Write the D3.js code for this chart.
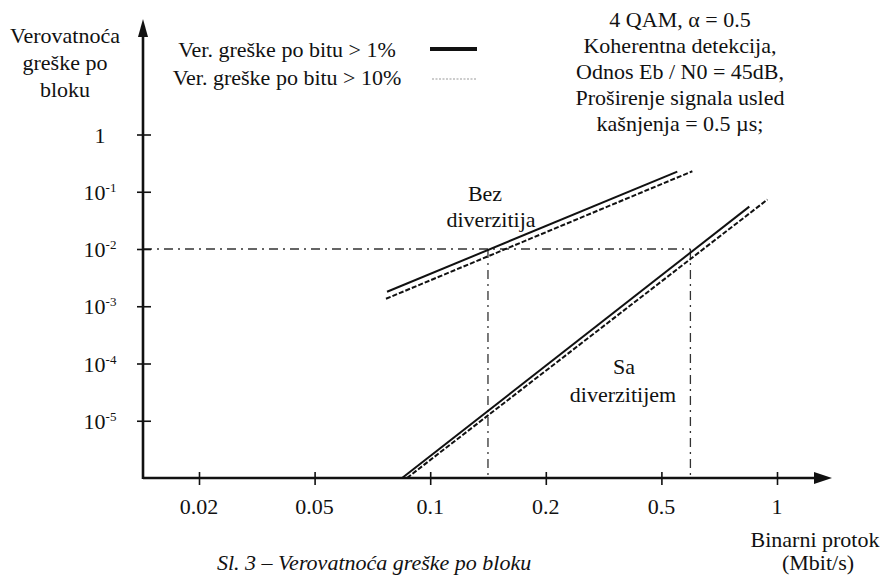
<!DOCTYPE html>
<html>
<head>
<meta charset="utf-8">
<script src="https://cdn.jsdelivr.net/npm/d3@7"></script>
<style>
  body { margin: 0; background: #fff; }
  svg text { font-family: "Liberation Serif", "Times New Roman", Times, "DejaVu Serif", serif; font-size: 22px; fill: #111; }
</style>
</head>
<body>
<div id="chartdiv"></div>
<script>
// tick values
const xTicks = [0.02, 0.05, 0.1, 0.2, 0.5, 1];
const xTickLabels = ["0.02", "0.05", "0.1", "0.2", "0.5", "1"];
const yTicks = [1, 1e-1, 1e-2, 1e-3, 1e-4, 1e-5];
const yTickExp = [null, "-1", "-2", "-3", "-4", "-5"];

// curves [binary rate Mbit/s, block error probability]
const bezSolid = [[0.0772, 1.79e-3], [0.550, 0.225]];
const bezDashed = [[0.0767, 1.35e-3], [0.602, 0.228]];
const saSolid = [[0.0845, 1e-6], [0.847, 0.055]];
const saDashed = [[0.087, 1e-6], [0.944, 0.073]];

// 10^-2 reference and where the curves cross it
const refLevel = 1e-2;
const refRates = [0.1414, 0.595];

const legendLabels = ["Ver. greške po bitu > 1%", "Ver. greške po bitu > 10%"];
const noteLines = ["4 QAM, \u03b1 = 0.5", "Koherentna detekcija,", "Odnos Eb / N0 = 45dB,",
  "Proširenje signala usled", "kašnjenja = 0.5 \u00b5s;"];

const width = 882, height = 576;
const origin = { x: 143, y: 478 };
const step = 115.6;
const serif = "'Liberation Serif', 'Times New Roman', Times, 'DejaVu Serif', serif";

const svg = d3.select("#chartdiv").append("svg")
  .attr("width", width)
  .attr("height", height)
  .attr("font-family", serif);

// the x axis is evenly spaced between its labelled ticks
let x = d3.scaleLog()
  .domain(xTicks)
  .range(xTicks.map(function (d, i) { return 199 + i * step; }));
let y = d3.scaleLog().domain([1e-6, 100]).range([origin.y, 20]);

// reference dash-dot lines
const refStyle = function (sel) {
  sel.attr("stroke", "#333").attr("stroke-width", 1.3)
    .attr("stroke-dasharray", "9,5,2,5").attr("fill", "none");
};
svg.append("line")
  .attr("x1", origin.x).attr("x2", x(refRates[1]))
  .attr("y1", y(refLevel)).attr("y2", y(refLevel))
  .call(refStyle);
svg.selectAll(".vref")
  .data(refRates)
  .enter().append("line")
  .attr("class", "vref")
  .attr("x1", function (d) { return x(d); })
  .attr("x2", function (d) { return x(d); })
  .attr("y1", y(refLevel)).attr("y2", origin.y)
  .call(refStyle);

// axes
let xAxis = d3.axisBottom(x).tickValues(xTicks).tickFormat("").tickSize(6);
let yAxis = d3.axisLeft(y).tickValues(yTicks).tickFormat("").tickSize(6);

let gx = svg.append("g")
  .attr("transform", "translate(0," + origin.y + ")")
  .call(xAxis);
gx.select(".domain").remove();
gx.selectAll(".tick line").attr("y1", -6).attr("y2", 7)
  .attr("stroke", "#111").attr("stroke-width", 1.6);

let gy = svg.append("g")
  .attr("transform", "translate(" + origin.x + ",0)")
  .call(yAxis);
gy.select(".domain").remove();
gy.selectAll(".tick line").attr("x1", -6).attr("x2", 8)
  .attr("stroke", "#111").attr("stroke-width", 1.6);

svg.append("line")
  .attr("x1", origin.x).attr("x2", 818)
  .attr("y1", origin.y).attr("y2", origin.y)
  .attr("stroke", "#111").attr("stroke-width", 2.6);
svg.append("path")
  .attr("d", "M832," + origin.y + "L814," + (origin.y - 6) + "L814," + (origin.y + 6) + "Z")
  .attr("fill", "#111");
svg.append("line")
  .attr("x1", origin.x).attr("x2", origin.x)
  .attr("y1", origin.y + 1).attr("y2", 34)
  .attr("stroke", "#111").attr("stroke-width", 2.6);
svg.append("path")
  .attr("d", "M" + origin.x + ",19L" + (origin.x - 5) + ",37L" + (origin.x + 5) + ",37Z")
  .attr("fill", "#111");

// tick labels
svg.selectAll(".xlab")
  .data(xTicks)
  .enter().append("text")
  .attr("class", "xlab")
  .attr("x", function (d) { return x(d); })
  .attr("y", 514)
  .attr("text-anchor", "middle")
  .text(function (d, i) { return xTickLabels[i]; });

let ylab = svg.selectAll(".ylab")
  .data(yTicks)
  .enter().append("text")
  .attr("class", "ylab")
  .attr("x", 100)
  .attr("y", function (d) { return y(d) + 8; })
  .attr("text-anchor", "middle");
ylab.append("tspan").text(function (d, i) { return yTickExp[i] ? "10" : "1"; });
ylab.filter(function (d, i) { return yTickExp[i]; })
  .append("tspan")
  .attr("dy", -8)
  .style("font-size", "13px")
  .text(function (d) { return yTickExp[yTicks.indexOf(d)]; });

// curves
let line = d3.line()
  .x(function (d) { return x(d[0]); })
  .y(function (d) { return y(d[1]); });

[bezSolid, saSolid].forEach(function (s) {
  svg.append("path").datum(s).attr("d", line)
    .attr("fill", "none").attr("stroke", "#111").attr("stroke-width", 2);
});
[bezDashed, saDashed].forEach(function (s) {
  svg.append("path").datum(s).attr("d", line)
    .attr("fill", "none").attr("stroke", "#111").attr("stroke-width", 2)
    .attr("stroke-dasharray", "5,2");
});

// curve names
svg.append("text").attr("x", 485).attr("y", 201).attr("text-anchor", "middle").text("Bez");
svg.append("text").attr("x", 491).attr("y", 227).attr("text-anchor", "middle").text("diverzitija");
svg.append("text").attr("x", 624).attr("y", 374).attr("text-anchor", "middle").text("Sa");
svg.append("text").attr("x", 623).attr("y", 402).attr("text-anchor", "middle").text("diverzitijem");

// y axis title
["Verovatnoća", "greške po", "bloku"].forEach(function (t, i) {
  svg.append("text").attr("x", 65).attr("y", 43 + i * 27)
    .attr("text-anchor", "middle").text(t);
});

// x axis title
svg.append("text").attr("x", 815).attr("y", 547).attr("text-anchor", "middle").text("Binarni protok");
svg.append("text").attr("x", 818).attr("y", 570).attr("text-anchor", "middle").text("(Mbit/s)");

// legend
svg.selectAll(".leg")
  .data(legendLabels)
  .enter().append("text")
  .attr("class", "leg")
  .attr("x", 287)
  .attr("y", function (d, i) { return 57 + i * 28; })
  .attr("text-anchor", "middle")
  .text(function (d) { return d; });
svg.append("line").attr("x1", 430).attr("x2", 477).attr("y1", 49).attr("y2", 49)
  .attr("stroke", "#111").attr("stroke-width", 4);
svg.append("line").attr("x1", 432).attr("x2", 477).attr("y1", 79).attr("y2", 79)
  .attr("stroke", "#999").attr("stroke-width", 1.2).attr("stroke-dasharray", "2,1.5");

// conditions note
noteLines.forEach(function (t, i) {
  svg.append("text").attr("x", 680).attr("y", 27 + i * 26)
    .attr("text-anchor", "middle").text(t);
});

// caption
svg.append("text").attr("x", 217).attr("y", 570)
  .style("font-style", "italic")
  .text("Sl. 3 \u2013 Verovatnoća greške po bloku");
</script>
</body>
</html>
